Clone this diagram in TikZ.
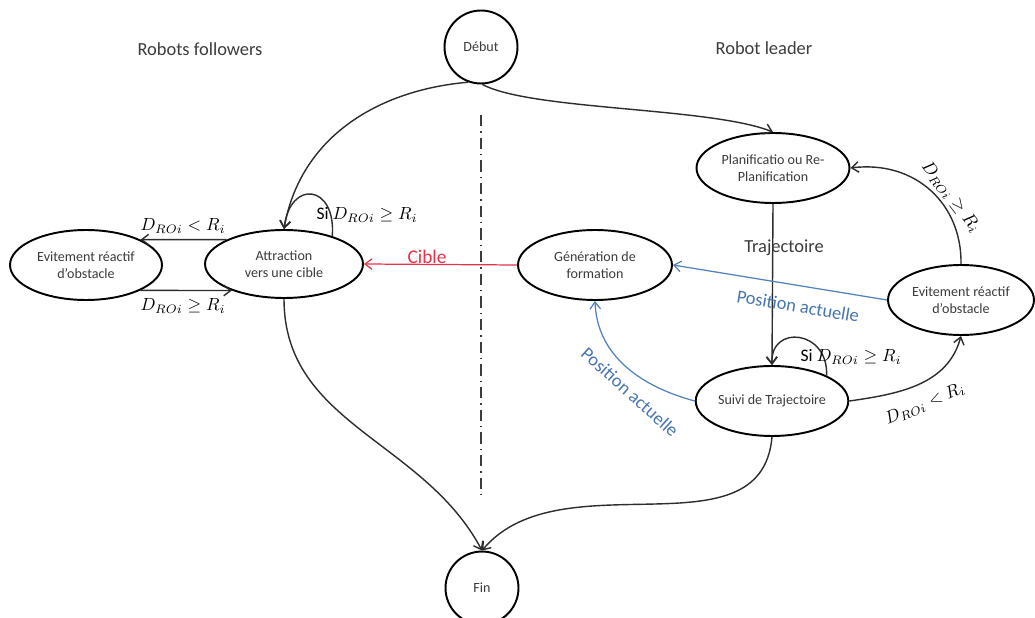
\documentclass[tikz,border=0pt]{standalone}
\usepackage{fontspec}
\setmainfont{Carlito}
\usetikzlibrary{shapes.geometric,arrows.meta}
\definecolor{inkgray}{RGB}{45,45,45}
\definecolor{txtgray}{RGB}{60,60,60}
\definecolor{posblue}{RGB}{79,129,189}
\definecolor{posbluetxt}{RGB}{72,118,176}
\definecolor{ciblered}{RGB}{228,52,74}
\tikzset{
  state/.style={ellipse, draw=black, line width=1.1pt, inner sep=0pt, align=center,
    text=txtgray, font=\fontsize{8}{9.6}\selectfont},
  term/.style={circle, draw=black, line width=1.1pt, inner sep=0pt, minimum size=1.46cm,
    text=txtgray, font=\fontsize{8}{9.6}\selectfont},
  link/.style={draw=inkgray, line width=0.8pt, -{Straight Barb[length=4pt,width=6pt]}},
  blink/.style={draw=posblue, line width=0.7pt, -{Straight Barb[length=4pt,width=6pt]}},
  rlink/.style={draw=ciblered, line width=0.7pt, -{Straight Barb[length=4pt,width=6pt]}},
  cond/.style={inner sep=0pt, text=black, font=\fontsize{10}{12}\selectfont},
  heading/.style={inner sep=0pt, text=txtgray, font=\fontsize{10.5}{12.6}\selectfont},
  postxt/.style={inner sep=0pt, text=posbluetxt, font=\fontsize{10.5}{12.6}\selectfont},
  divider/.style={draw=txtgray, line width=1.1pt, dash pattern=on 6.5pt off 2.8pt on 0.8pt off 2.8pt}
}
\begin{document}
\begin{tikzpicture}[x=0.02cm, y=-0.02cm]
\path[use as bounding box, fill=white] (0,0) rectangle (1035,618);

% headings
\node[heading] (hfol) at (200,49) {Robots followers};
\node[heading] (hlead) at (764,48) {Robot leader};

% separation between followers and leader
\coordinate (sepT) at (481,115);
\coordinate (sepB) at (481,497);
\draw[divider] (sepT) -- (sepB);

% start / end
\node[term] (debut) at (481,47) {Début};
\node[term] (fin) at (482,588) {Fin};

% followers
\node[state, minimum width=3.04cm, minimum height=1.4cm] (evl) at (86,265) {Evitement réactif\\d’obstacle};
\node[state, minimum width=3.16cm, minimum height=1.36cm] (attr) at (284,264) {Attraction\\vers une cible};

% leader
\node[state, minimum width=3.08cm, minimum height=1.4cm] (gen) at (595,265) {Génération de\\formation};
\node[state, minimum width=3.06cm, minimum height=1.4cm] (plan) at (773,168) {Planificatio ou Re-\\Planification};
\node[state, minimum width=2.92cm, minimum height=1.4cm] (evr) at (961,300) {Evitement réactif\\d’obstacle};
\node[state, minimum width=3.0cm, minimum height=1.4cm] (suivi) at (772,401) {Suivi de Trajectoire};

% start transitions
\draw[link] (debut.250) to[out=185,in=80] (attr.north);
\draw[link] (debut.272) .. controls +(49,26) and +(-63,-25) .. (plan.north);

% followers transitions
\draw[link] (attr.30) .. controls +(4,-52) and +(6,-50) .. (attr.north);
\node[cond] (lsi) at (367,215) {Si $D_{ROi} \geq R_i$};
\draw[link] (attr.157) -- (evl.25);
\node[cond] (llt) at (183,226) {$D_{ROi} < R_i$};
\draw[link] (evl.335) -- (attr.207);
\node[cond] (lge) at (183,306) {$D_{ROi} \geq R_i$};
\draw[link] (attr.south) to[out=-90,in=118] (fin.north);

% target sent to the followers
\draw[rlink] (gen.west) -- (attr.east);
\node[inner sep=0pt, text=ciblered, font=\fontsize{11}{13}\selectfont] (cible) at (427,257) {Cible};

% leader transitions
\draw[link] (plan.south) -- (suivi.north);
\node[heading] (traj) at (784,248) {Trajectoire};
\draw[link] (suivi.25) .. controls +(2,-46) and +(-2,-41) .. (suivi.north);
\node[cond] (rsi) at (851,357) {Si $D_{ROi} \geq R_i$};
\draw[link] (suivi.east) to[out=8,in=-105] (evr.south);
\node[cond, rotate=23] (rlt) at (925,404) {$D_{ROi} < R_i$};
\draw[link] (evr.north) .. controls +(1,-60) and +(65,-8) .. (plan.east);
\node[cond, rotate=-52] (rge) at (951,197) {$D_{ROi} \geq R_i$};
\draw[link] (suivi.south) to[out=-95,in=50] (fin.north);

% current position fed back to the formation
\draw[blink] (evr.west) -- (gen.east);
\node[postxt, rotate=-9.5] (pos1) at (798,306) {Position actuelle};
\draw[blink] (suivi.west) to[out=165,in=-88] (gen.south);
\node[postxt, rotate=-42] (pos2) at (630,392) {Position actuelle};
\end{tikzpicture}
\end{document}
